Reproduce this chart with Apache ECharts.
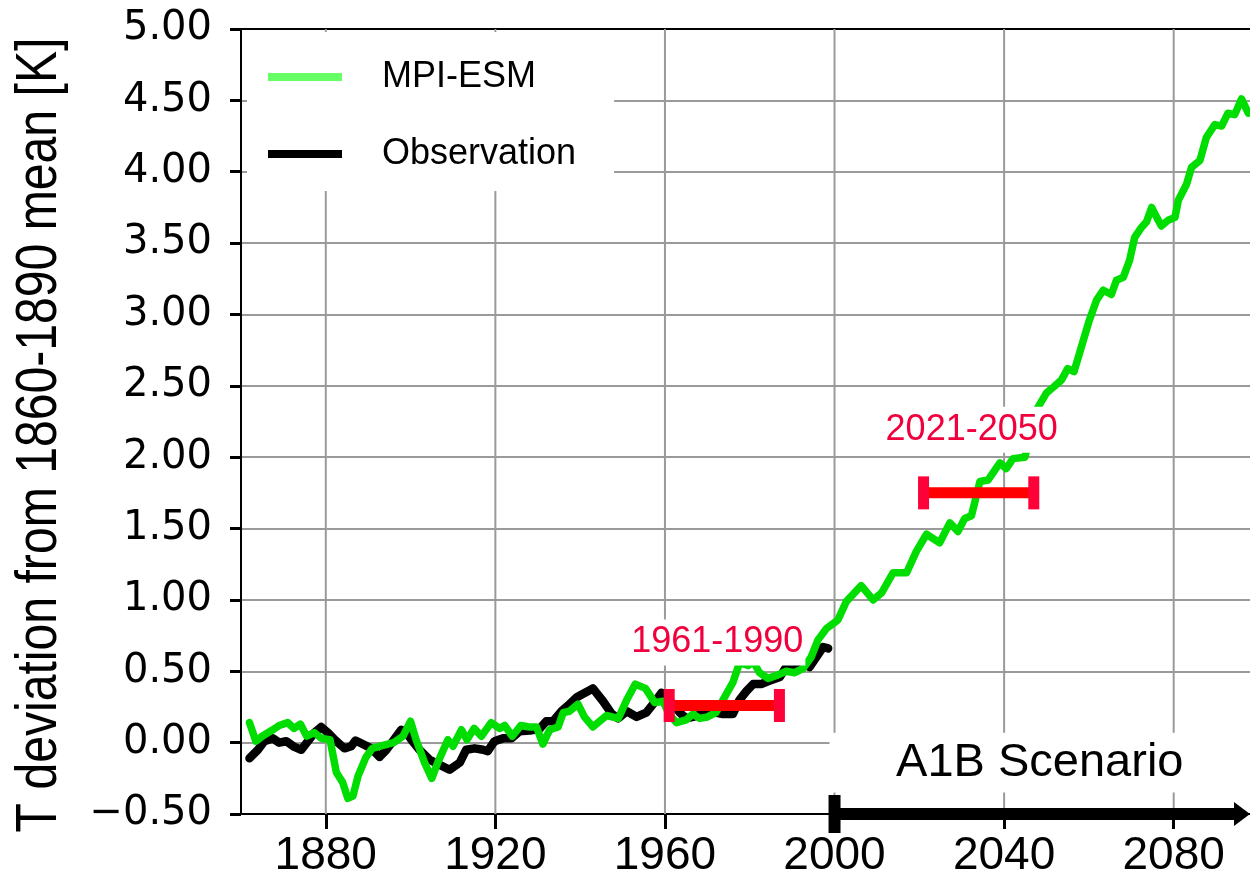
<!DOCTYPE html>
<html>
<head>
<meta charset="utf-8">
<title>T deviation from 1860-1890 mean</title>
<script src="https://cdn.jsdelivr.net/npm/echarts@6/dist/echarts.min.js"></script>
<style>
html, body { margin: 0; padding: 0; background: #fff; }
#main { width: 1250px; height: 881px; }
</style>
</head>
<body>
<div id="main"></div>
<script>
// MPI-ESM model run
var mpiYears = [1862, 1863.5, 1865, 1867.5, 1869, 1871, 1872.5, 1874, 1875.5, 1877.3, 1879, 1881,
    1882.5, 1884, 1885.2, 1886.4, 1887.6, 1889.5, 1891, 1893.5, 1896, 1898.2, 1900, 1901.3,
    1903.3, 1905, 1906.4, 1908.8, 1910, 1912, 1913.3, 1915, 1916.7, 1919, 1921, 1922.2,
    1924, 1926, 1928, 1929.7, 1931.2, 1932.8, 1934.8, 1936, 1937.5, 1939.5, 1941, 1943,
    1946.2, 1949, 1951, 1953, 1955.4, 1957.6, 1959.5, 1961, 1962.7, 1965, 1966.6, 1968.2,
    1970, 1972, 1973.7, 1976, 1977.6, 1979.6, 1980.8, 1982.3, 1984.3, 1986.7, 1988.6, 1990.6,
    1992.6, 1994.5, 1996.1, 1998.1, 2000.8, 2002.8, 2006.3, 2009.1, 2011.1, 2013.8, 2017, 2019.3,
    2021.7, 2024.8, 2027.2, 2029.1, 2030.7, 2032.3, 2034.3, 2036.2, 2039, 2040.5, 2042.1, 2044.9,
    2047.6, 2050, 2051.6, 2053.5, 2055, 2056.5, 2058, 2060, 2061.8, 2063.4, 2065.3, 2066.5,
    2068.1, 2069.6, 2070.8, 2072.4, 2073.6, 2074.8, 2076, 2077.1, 2078.7, 2080.3, 2081.1, 2083,
    2084.2, 2086.2, 2087.7, 2089.7, 2091.3, 2092.8, 2094.4, 2096, 2097.6];
var mpiValues = [0.14, 0.01, 0.045, 0.09, 0.12, 0.14, 0.10, 0.13, 0.045, 0.07, 0.03, 0.02,
    -0.21, -0.28, -0.39, -0.375, -0.235, -0.10, -0.04, -0.02, 0.0, 0.045, 0.15, 0.02,
    -0.14, -0.25, -0.14, 0.02, -0.025, 0.09, 0.02, 0.10, 0.045, 0.14, 0.10, 0.12,
    0.045, 0.12, 0.11, 0.11, -0.01, 0.09, 0.11, 0.21, 0.22, 0.27, 0.18, 0.11,
    0.19, 0.17, 0.30, 0.41, 0.38, 0.28, 0.29, 0.20, 0.14, 0.16, 0.20, 0.17,
    0.18, 0.21, 0.30, 0.42, 0.56, 0.54, 0.57, 0.49, 0.45, 0.475, 0.50, 0.49,
    0.52, 0.60, 0.72, 0.80, 0.86, 0.99, 1.10, 1.00, 1.05, 1.19, 1.19, 1.34,
    1.46, 1.40, 1.54, 1.48, 1.57, 1.59, 1.83, 1.84, 1.96, 1.92, 1.99, 2.00,
    2.33, 2.45, 2.49, 2.54, 2.62, 2.60, 2.75, 2.95, 3.10, 3.17, 3.14, 3.24,
    3.26, 3.38, 3.54, 3.61, 3.65, 3.75, 3.68, 3.62, 3.66, 3.68, 3.80, 3.91,
    4.03, 4.08, 4.24, 4.33, 4.32, 4.41, 4.40, 4.51, 4.41];

// observations
var obsYears = [1862, 1864, 1865.5, 1867.5, 1869, 1870.7, 1872.6, 1874.2, 1875.8, 1877.3, 1878.9, 1880.5,
    1882.1, 1884.4, 1886, 1887, 1888.7, 1890.7, 1892.7, 1894.3, 1895.8, 1897.8, 1899, 1900.2,
    1902.1, 1904.5, 1906.8, 1909.2, 1911.6, 1913.1, 1915.1, 1917.1, 1918.2, 1919.8, 1921.8, 1923.8,
    1925.7, 1928.1, 1930.4, 1932, 1933.6, 1935.6, 1937.5, 1939.3, 1943, 1945.4, 1947.5, 1949,
    1951, 1953.3, 1955.6, 1958, 1959.2, 1961, 1963.5, 1965, 1966.6, 1970.5, 1973.7, 1976,
    1977.6, 1979.2, 1980.8, 1982.7, 1984.3, 1987.1, 1988.6, 1990.2, 1992.2, 1994.1, 1995.7, 1997.3,
    1998.5];
var obsValues = [-0.11, -0.05, 0.01, 0.03, 0.0, 0.01, -0.03, -0.05, 0.01, 0.07, 0.11, 0.07,
    0.02, -0.04, -0.025, 0.015, -0.01, -0.04, -0.10, -0.05, 0.01, 0.09, 0.07, 0.02,
    -0.05, -0.12, -0.155, -0.19, -0.14, -0.05, -0.04, -0.05, -0.06, 0.01, 0.03, 0.03,
    0.08, 0.085, 0.095, 0.15, 0.15, 0.22, 0.27, 0.32, 0.38, 0.29, 0.20, 0.17,
    0.22, 0.18, 0.21, 0.30, 0.35, 0.30, 0.21, 0.17, 0.18, 0.22, 0.20, 0.20,
    0.30, 0.36, 0.41, 0.41, 0.43, 0.46, 0.53, 0.51, 0.56, 0.53, 0.60, 0.67,
    0.66];

var xTickYears = [1880, 1920, 1960, 2000, 2040, 2080];

// averaging periods marked in red
var periodLabels = ['1961-1990', '2021-2050'];
var periodStart = [1961, 2021];
var periodEnd = [1987, 2047];
var periodMean = [0.26, 1.75];

var scenarioName = 'A1B Scenario';
var scenarioStart = 2000;

var yName = 'T deviation from 1860-1890 mean [K]';

var xMin = 1860, xMax = 2098, yMin = -0.5, yMax = 5;

function pairs(xs, ys) {
    return xs.map(function (x, i) { return [x, ys[i]]; });
}

var myChart = echarts.init(document.getElementById('main'), null, { renderer: 'canvas' });

// vertical grid lines at the labelled years
function renderXGrid(params, api) {
    var top = api.coord([api.value(0), yMax]);
    var bot = api.coord([api.value(0), yMin]);
    return {
        type: 'line',
        shape: { x1: top[0], y1: top[1], x2: bot[0], y2: bot[1] },
        style: { stroke: '#9a9a9a', lineWidth: 2 }
    };
}

// white label box + arrow for the scenario part
function renderScenario(params, api) {
    var a = api.coord([scenarioStart, yMin]);
    var b = api.coord([xMax, yMin]);
    var boxTop = api.coord([scenarioStart, 0.07]);
    var boxBot = api.coord([scenarioStart, -0.35]);
    var left = a[0] - 5;
    return {
        type: 'group',
        children: [
            { type: 'rect', shape: { x: left, y: boxTop[1], width: b[0] - left, height: boxBot[1] - boxTop[1] },
              style: { fill: '#fff' } },
            { type: 'text', x: (left + b[0]) / 2, y: (boxTop[1] + boxBot[1]) / 2,
              style: { text: scenarioName, fill: '#000', font: '47px "Liberation Sans", Arial, sans-serif',
                       align: 'center', verticalAlign: 'middle' } },
            { type: 'rect', shape: { x: a[0], y: a[1] - 6, width: b[0] - 15 - a[0], height: 12 },
              style: { fill: '#000' } },
            { type: 'rect', shape: { x: a[0] - 6, y: a[1] - 19, width: 12, height: 38 },
              style: { fill: '#000' } },
            { type: 'polygon', shape: { points: [[b[0] - 16, a[1] - 12], [b[0], a[1]], [b[0] - 16, a[1] + 12]] },
              style: { fill: '#000' } }
        ]
    };
}

function renderPeriod(params, api) {
    var s = api.coord([api.value(0), api.value(2)]);
    var e = api.coord([api.value(1), api.value(2)]);
    return {
        type: 'group',
        children: [
            { type: 'rect', shape: { x: s[0], y: s[1] - 5.5, width: e[0] - s[0], height: 11 },
              style: { fill: '#ff0000' } },
            { type: 'rect', shape: { x: s[0] - 5.5, y: s[1] - 16.5, width: 11, height: 33 },
              style: { fill: '#ff0038' } },
            { type: 'rect', shape: { x: e[0] - 5.5, y: e[1] - 16.5, width: 11, height: 33 },
              style: { fill: '#ff0038' } },
            { type: 'text', x: (s[0] + e[0]) / 2 - 7, y: s[1] - 63,
              style: { text: periodLabels[params.dataIndex], fill: '#f0003c',
                       font: '36px "Liberation Sans", Arial, sans-serif',
                       align: 'center', verticalAlign: 'middle',
                       backgroundColor: '#fff', padding: [5, 2, 5, 2] } }
        ]
    };
}

var option = {
    backgroundColor: '#fff',
    animation: false,
    grid: {
        left: 241,
        top: 29,
        right: 0,
        bottom: 67,
        containLabel: false,
        outerBoundsMode: 'none'
    },
    // narrow-looking axis title: regular font squeezed along the text direction
    graphic: [{
        type: 'text',
        x: 40,
        y: 435,
        rotation: Math.PI / 2,
        scaleX: 0.83,
        silent: true,
        style: {
            text: yName,
            fill: '#000',
            font: '58px "Liberation Sans", Arial, sans-serif',
            align: 'center',
            verticalAlign: 'middle'
        }
    }],
    legend: {
        orient: 'vertical',
        left: 247,
        top: 32,
        padding: [27, 38, 19, 21],
        backgroundColor: '#fff',
        icon: 'rect',
        itemWidth: 74,
        itemHeight: 8,
        itemGap: 41,
        selectedMode: false,
        textStyle: {
            fontFamily: '"Liberation Sans", Arial, sans-serif',
            fontSize: 36,
            lineHeight: 36,
            color: '#000',
            padding: [0, 0, 0, 35]
        },
        data: [
            { name: 'MPI-ESM', itemStyle: { color: '#66ff66' } },
            { name: 'Observation', itemStyle: { color: '#000' } }
        ]
    },
    xAxis: [{
        type: 'value',
        min: xMin,
        max: xMax,
        position: 'bottom',
        axisLine: { show: true, onZero: false, lineStyle: { color: '#000', width: 2 } },
        axisTick: { show: true, customValues: xTickYears, length: 15, lineStyle: { color: '#000', width: 3 } },
        axisLabel: {
            customValues: xTickYears,
            color: '#000',
            fontFamily: '"Liberation Sans", Arial, sans-serif',
            fontSize: 46,
            margin: 19,
            formatter: function (v) { return String(v); }
        },
        splitLine: { show: false }
    }, {
        type: 'value',
        min: xMin,
        max: xMax,
        position: 'top',
        axisLine: { show: true, onZero: false, lineStyle: { color: '#000', width: 2 } },
        axisTick: { show: false },
        axisLabel: { show: false },
        splitLine: { show: false }
    }],
    yAxis: {
        type: 'value',
        min: yMin,
        max: yMax,
        interval: 0.5,
        axisLine: { show: true, onZero: false, lineStyle: { color: '#000', width: 2 } },
        axisTick: { show: true, inside: false, length: 11, lineStyle: { color: '#000', width: 3 } },
        axisLabel: {
            color: '#000',
            fontFamily: '"DejaVu Sans", sans-serif',
            fontSize: 40,
            margin: 29,
            formatter: function (v) {
                var s = Math.abs(v).toFixed(2);
                return v < 0 ? '\u2212' + s : s;
            }
        },
        splitLine: { show: true, lineStyle: { color: '#9a9a9a', width: 2 } }
    },
    series: [
        {
            name: 'xgrid',
            type: 'custom',
            silent: true,
            z: 1,
            renderItem: renderXGrid,
            data: xTickYears.map(function (y) { return [y]; })
        },
        {
            name: 'scenario',
            type: 'custom',
            silent: true,
            z: 2,
            renderItem: renderScenario,
            data: [[scenarioStart]]
        },
        {
            name: 'Observation',
            type: 'line',
            z: 3,
            clip: false,
            symbol: 'none',
            smooth: false,
            lineStyle: { color: '#000', width: 8.5, cap: 'round', join: 'round' },
            itemStyle: { color: '#000' },
            data: pairs(obsYears, obsValues)
        },
        {
            name: 'MPI-ESM',
            type: 'line',
            z: 4,
            clip: false,
            symbol: 'none',
            smooth: false,
            lineStyle: { color: '#00dd00', width: 7.5, cap: 'round', join: 'round' },
            itemStyle: { color: '#00dd00' },
            data: pairs(mpiYears, mpiValues)
        },
        {
            name: 'periods',
            type: 'custom',
            silent: true,
            z: 5,
            renderItem: renderPeriod,
            data: periodStart.map(function (s, i) { return [s, periodEnd[i], periodMean[i]]; })
        }
    ]
};

myChart.setOption(option);
</script>
</body>
</html>
